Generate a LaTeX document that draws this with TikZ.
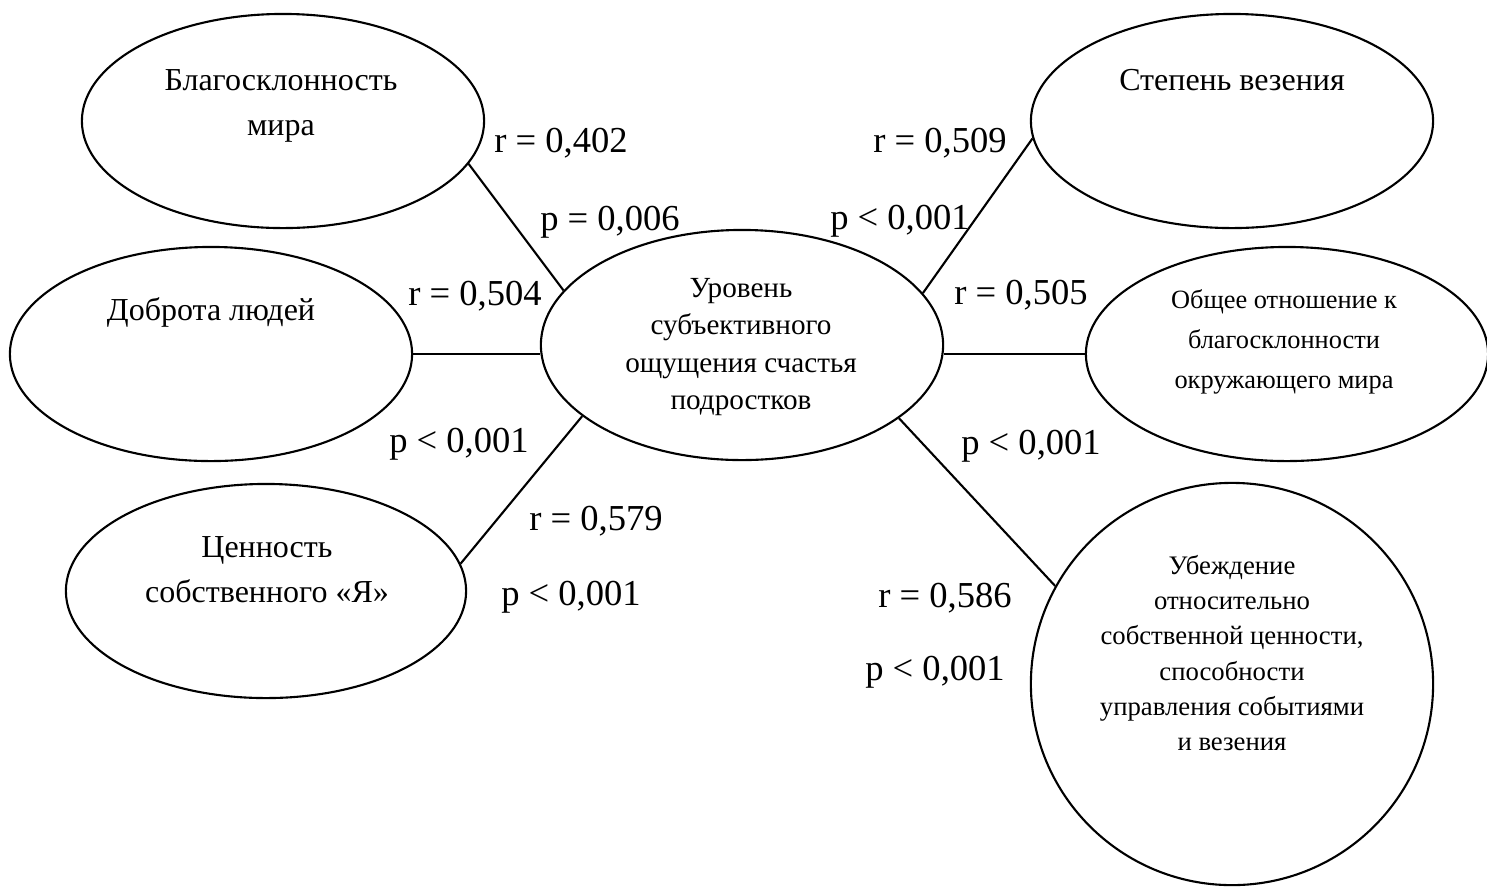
\documentclass[tikz,border=0pt]{standalone}
\usepackage{fontspec}
\setmainfont{Liberation Serif}
\usetikzlibrary{shapes.geometric}

\tikzset{
  oval/.style 2 args={ellipse, draw, line width=0.6pt, minimum width=#1, minimum height=#2, inner sep=0pt},
  bigtxt/.style={align=center, font=\fontsize{9.1}{12.8}\selectfont},
  smalltxt/.style={align=center, font=\fontsize{7.5}{10.5}\selectfont},
  stat/.style={anchor=base, inner sep=0pt, font=\fontsize{10.4}{12}\selectfont},
  link/.style={line width=0.6pt}
}

\begin{document}
\begin{tikzpicture}[x=0.01cm, y=-0.01cm]
    \useasboundingbox (0,0) rectangle (1487,887);
    % ovals
    \node[oval={4.02cm}{2.14cm}] (blag) at (283,121) {};
    \node[oval={4.02cm}{2.14cm}] (dobr) at (211,354) {};
    \node[oval={4.00cm}{2.14cm}] (cenn) at (266,591) {};
    \node[oval={4.02cm}{2.30cm}] (centr) at (742,345) {};
    \node[oval={4.02cm}{2.14cm}] (step) at (1232,121) {};
    \node[oval={4.02cm}{2.14cm}] (obsh) at (1287,354) {};
    \node[oval={4.02cm}{4.02cm}] (ubezh) at (1232,684) {};

    % texts in the ovals
    \node[bigtxt] (blagtxt) at (281,106) {Благосклонность\\мира};
    \node[bigtxt] (dobrtxt) at (211,312) {Доброта людей};
    \node[bigtxt] (cenntxt) at (267,570) {Ценность\\собственного «Я»};
    \node[bigtxt] (steptxt) at (1232,80) {Степень везения};
    \node[smalltxt, font=\fontsize{8.3}{10.6}\selectfont] (centrtxt) at (741,347) {Уровень\\субъективного\\ощущения счастья\\подростков};
    \node[smalltxt, font=\fontsize{7.5}{11.3}\selectfont] (obshtxt) at (1284,342) {Общее отношение к\\благосклонности\\окружающего мира};
    \node[smalltxt, font=\fontsize{7.6}{10}\selectfont] (ubezhtxt) at (1232,653) {Убеждение\\относительно\\собственной ценности,\\способности\\управления событиями\\и везения};

    % connectors
    \draw[link] (blag.-13) -- (centr.163.5);
    \draw[link] (dobr.east) -- (dobr.east -| centr.west);
    \draw[link] (cenn.8) -- (centr.204.6);
    \draw[link] (centr.16.6) -- (step.185);
    \draw[link] (obsh.west -| centr.east) -- (obsh.west);
    \draw[link] (centr.-25.5) -- (ubezh.151.3);

    % r and p values
    \node[stat] (r1) at (561,152) {r = 0,402};
    \node[stat] (p1) at (610,230) {p = 0,006};
    \node[stat] (r2) at (475,305) {r = 0,504};
    \node[stat] (p2) at (459,452) {p < 0,001};
    \node[stat] (r3) at (596,530) {r = 0,579};
    \node[stat] (p3) at (571,605) {p < 0,001};
    \node[stat] (r4) at (940,152) {r = 0,509};
    \node[stat] (p4) at (900,229) {p < 0,001};
    \node[stat] (r5) at (1021,304) {r = 0,505};
    \node[stat] (p5) at (1031,454) {p < 0,001};
    \node[stat] (r6) at (945,607) {r = 0,586};
    \node[stat] (p6) at (935,680) {p < 0,001};
\end{tikzpicture}
\end{document}
